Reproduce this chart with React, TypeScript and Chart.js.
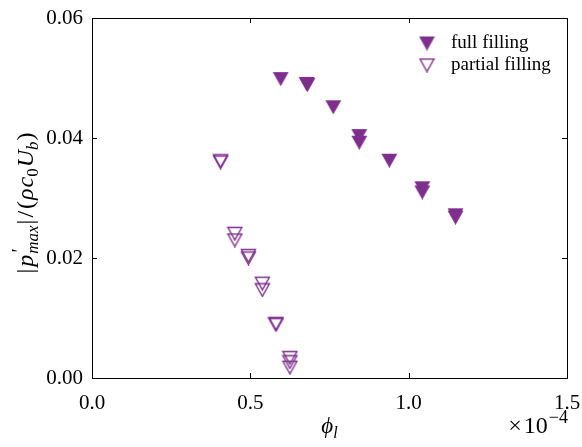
import React, { useEffect, useRef } from "react";
import { Chart, registerables } from "chart.js";

Chart.register(...registerables);

// phi_l in units of 1e-4 (axis shows ×10^-4 offset)
const fullPhi = [0.596, 0.678, 0.680, 0.762, 0.844, 0.844, 0.939, 1.043, 1.043, 1.148, 1.148];
const fullP = [0.0499, 0.0491, 0.0489, 0.0452, 0.0404, 0.0393, 0.0363, 0.0317, 0.0310, 0.0272, 0.0268];
const partialPhi = [0.406, 0.406, 0.451, 0.451, 0.494, 0.494, 0.538, 0.538, 0.581, 0.581, 0.625, 0.625, 0.625];
const partialP = [0.0362, 0.0360, 0.0241, 0.0230, 0.0204, 0.0200, 0.0158, 0.0147, 0.0091, 0.0089, 0.0034, 0.0027, 0.0018];
const xTicks = [0, 0.5, 1.0, 1.5];
const yTicks = [0, 0.02, 0.04, 0.06];
const legendLabels = ["full filling", "partial filling"];

const PURPLE = "#7E2F8E";
const FONT = '"Liberation Serif", "DejaVu Serif", serif';

function makeTriangle(filled: boolean): HTMLCanvasElement {
  const c = document.createElement("canvas");
  c.width = 17;
  c.height = 15;
  const g = c.getContext("2d")!;
  g.beginPath();
  g.moveTo(1.5, 1.5);
  g.lineTo(15.5, 1.5);
  g.lineTo(8.5, 14);
  g.closePath();
  g.lineWidth = filled ? 1.1 : 1.4;
  g.strokeStyle = PURPLE;
  if (filled) {
    g.fillStyle = PURPLE;
    g.fill();
  }
  g.stroke();
  return c;
}

type Piece = { t: string; italic?: boolean; size?: number; dy?: number; noAdvance?: boolean; font?: string; gap?: number };

function drawRich(ctx: CanvasRenderingContext2D, pieces: Piece[], x: number, y: number, align: "center" | "right", base = 20) {
  const fontOf = (p: Piece) => `${p.italic ? "italic " : ""}${p.size || base}px ${p.font || FONT}`;
  let total = 0;
  const widths: number[] = [];
  pieces.forEach((p) => {
    ctx.font = fontOf(p);
    const w = ctx.measureText(p.t).width + (p.gap || 0);
    widths.push(w);
    if (!p.noAdvance) total += w;
  });
  let cx = align === "center" ? x - total / 2 : x - total;
  ctx.textAlign = "left";
  ctx.textBaseline = "alphabetic";
  pieces.forEach((p, i) => {
    ctx.font = fontOf(p);
    ctx.fillText(p.t, cx, y + (p.dy || 0));
    if (!p.noAdvance) cx += widths[i];
  });
}

export default function App() {
  const ref = useRef<HTMLCanvasElement>(null);

  useEffect(() => {
    const fullImg = makeTriangle(true);
    const partImg = makeTriangle(false);

    const framePlugin = {
      id: "frame",
      afterDraw(chart: any) {
        const ctx = chart.ctx as CanvasRenderingContext2D;
        const a = chart.chartArea;
        const xs = chart.scales.x;
        const ys = chart.scales.y;
        ctx.save();
        ctx.strokeStyle = "#000";
        ctx.lineWidth = 1;
        ctx.strokeRect(Math.round(a.left) + 0.5, Math.round(a.top) + 0.5, Math.round(a.right - a.left), Math.round(a.bottom - a.top));
        const tl = 5;
        ctx.beginPath();
        xTicks.forEach((v) => {
          const px = Math.round(xs.getPixelForValue(v)) + 0.5;
          ctx.moveTo(px, a.bottom);
          ctx.lineTo(px, a.bottom - tl);
          ctx.moveTo(px, a.top);
          ctx.lineTo(px, a.top + tl);
        });
        yTicks.forEach((v) => {
          const py = Math.round(ys.getPixelForValue(v)) + 0.5;
          ctx.moveTo(a.left, py);
          ctx.lineTo(a.left + tl, py);
          ctx.moveTo(a.right, py);
          ctx.lineTo(a.right - tl, py);
        });
        ctx.stroke();

        // legend
        ctx.drawImage(fullImg, 427 - 8.5, 43 - 7.5);
        ctx.drawImage(partImg, 427 - 8.5, 65 - 7.5);
        ctx.fillStyle = "#000";
        ctx.font = `19px ${FONT}`;
        ctx.textAlign = "left";
        ctx.textBaseline = "middle";
        ctx.fillText(legendLabels[0], 451, 43);
        ctx.fillText(legendLabels[1], 451, 65);

        // x title
        drawRich(ctx, [
          { t: "ϕ", italic: true, size: 23 },
          { t: "l", italic: true, size: 16, dy: 5 },
        ], (a.left + a.right) / 2, 433, "center");
        // offset text
        drawRich(ctx, [
          { t: "×", size: 24, gap: 2 },
          { t: "10", size: 24, gap: 1 },
          { t: "−4", size: 18, dy: -10 },
        ], 568, 433, "right");

        // y title
        ctx.save();
        ctx.translate(33, (a.top + a.bottom) / 2 + 5);
        ctx.rotate(-Math.PI / 2);
        drawRich(ctx, [
          { t: "|", gap: 2 },
          { t: "p", italic: true, gap: 1 },
          { t: "'", size: 20, dy: -7, noAdvance: true, italic: true },
          { t: "max", italic: true, size: 17, dy: 5, gap: 1 },
          { t: "|", gap: 2 },
          { t: "/", gap: 2 },
          { t: "(", gap: 1 },
          { t: "ρ", italic: true, gap: 1 },
          { t: "c", italic: true },
          { t: "0", size: 17, dy: 5, gap: 1 },
          { t: "U", italic: true },
          { t: "b", italic: true, size: 17, dy: 5, gap: 1 },
          { t: ")" },
        ], 0, 0, "center", 24);
        ctx.restore();
        ctx.restore();
      },
    };

    const chart = new Chart(ref.current!, {
      type: "scatter",
      data: {
        datasets: [
          {
            label: legendLabels[0],
            data: fullPhi.map((x, i) => ({ x, y: fullP[i] })),
            pointStyle: fullImg as any,
            backgroundColor: PURPLE,
            borderColor: PURPLE,
          },
          {
            label: legendLabels[1],
            data: partialPhi.map((x, i) => ({ x, y: partialP[i] })),
            pointStyle: partImg as any,
            backgroundColor: PURPLE,
            borderColor: PURPLE,
          },
        ],
      },
      options: {
        animation: false,
        responsive: false,
        maintainAspectRatio: false,
        devicePixelRatio: 1,
        layout: { padding: { left: 0, top: 18, right: 15, bottom: 0 } },
        plugins: { legend: { display: false }, tooltip: { enabled: false } },
        scales: {
          x: {
            type: "linear",
            min: 0,
            max: 1.5,
            grid: { display: false, drawTicks: false },
            border: { display: false },
            ticks: {
              stepSize: 0.5,
              padding: 13,
              color: "#000",
              font: { family: FONT, size: 21 },
              callback: (v: any) => Number(v).toFixed(1),
              maxRotation: 0,
            },
            afterFit: (s: any) => { s.height = 69; s.paddingLeft = 0; s.paddingRight = 0; },
          },
          y: {
            type: "linear",
            min: 0,
            max: 0.06,
            grid: { display: false, drawTicks: false },
            border: { display: false },
            ticks: {
              stepSize: 0.02,
              padding: 9,
              color: "#000",
              font: { family: FONT, size: 21 },
              callback: (v: any) => Number(v).toFixed(2),
            },
            afterFit: (s: any) => { s.width = 92; s.paddingTop = 0; s.paddingBottom = 0; },
          },
        },
      },
      plugins: [framePlugin],
    });
    return () => chart.destroy();
  }, []);

  return (
    <div style={{ position: "fixed", left: 0, top: 0, width: 582, height: 447, background: "#fff" }}>
      <canvas ref={ref} width={582} height={447} style={{ width: 582, height: 447, display: "block" }} />
    </div>
  );
}
